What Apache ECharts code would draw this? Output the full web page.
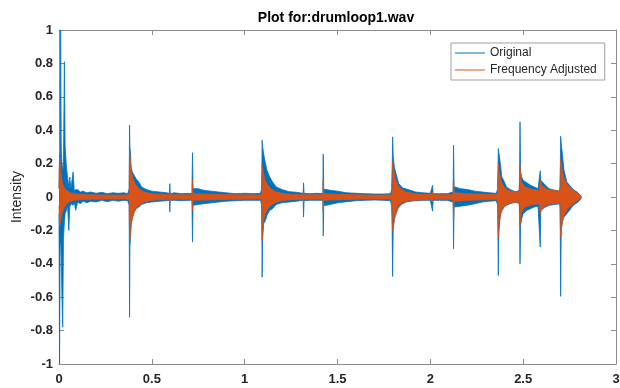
<!DOCTYPE html>
<html>
<head>
<meta charset="utf-8">
<script src="https://cdn.jsdelivr.net/npm/echarts@6/dist/echarts.min.js"></script>
<style>
  html, body { margin: 0; padding: 0; background: #fff; }
  #chart { width: 620px; height: 388px; }
</style>
</head>
<body>
<div id="chart"></div>
<script>
// envelope of the waveform: [time (s), upper, lower]
const originalEnvelope = [
  [0.000, 0.05, -0.10], [0.003, 0.25, -1.00], [0.006, 0.15, -0.30], [0.009, 1.00, -0.25],
  [0.012, 0.30, -0.35], [0.016, 0.20, -0.60], [0.020, 0.15, -0.78], [0.024, 0.20, -0.25],
  [0.029, 0.81, -0.15], [0.033, 0.30, -0.10],
  [0.040, 0.18, -0.08], [0.046, 0.12, -0.05], [0.053, 0.06, -0.20], [0.058, 0.12, -0.06],
  [0.064, 0.05, -0.04], [0.076, 0.15, -0.05], [0.082, 0.04, -0.03], [0.090, 0.05, -0.08],
  [0.100, 0.045, -0.03], [0.115, 0.03, -0.04], [0.130, 0.035, -0.025], [0.150, 0.025, -0.035],
  [0.170, 0.03, -0.025], [0.200, 0.022, -0.03], [0.230, 0.028, -0.02], [0.260, 0.02, -0.028],
  [0.290, 0.025, -0.02], [0.320, 0.022, -0.025], [0.350, 0.025, -0.02], [0.370, 0.02, -0.022],
  [0.378, 0.05, -0.05], [0.380, 0.43, -0.72], [0.382, 0.30, -0.30], [0.385, 0.27, -0.25],
  [0.388, 0.18, -0.16], [0.395, 0.15, -0.13], [0.405, 0.16, -0.09], [0.415, 0.11, -0.07],
  [0.430, 0.09, -0.06], [0.445, 0.06, -0.045], [0.470, 0.045, -0.035], [0.500, 0.035, -0.03],
  [0.540, 0.03, -0.025], [0.580, 0.025, -0.022], [0.595, 0.022, -0.02], [0.597, 0.08, -0.09],
  [0.599, 0.02, -0.02], [0.620, 0.025, -0.02], [0.660, 0.02, -0.022], [0.700, 0.022, -0.02],
  [0.716, 0.02, -0.02], [0.719, 0.265, -0.27], [0.722, 0.05, -0.05], [0.730, 0.045, -0.05],
  [0.750, 0.05, -0.045], [0.780, 0.04, -0.04], [0.820, 0.035, -0.035], [0.860, 0.03, -0.03],
  [0.900, 0.025, -0.025], [0.950, 0.02, -0.022], [1.000, 0.022, -0.02], [1.050, 0.02, -0.02],
  [1.085, 0.022, -0.02], [1.092, 0.05, -0.05], [1.094, 0.34, -0.48], [1.097, 0.30, -0.25],
  [1.102, 0.26, -0.16], [1.112, 0.20, -0.14], [1.120, 0.16, -0.11], [1.135, 0.12, -0.08],
  [1.150, 0.09, -0.07], [1.170, 0.06, -0.045], [1.200, 0.045, -0.035], [1.240, 0.032, -0.03],
  [1.280, 0.028, -0.025], [1.315, 0.022, -0.02], [1.317, 0.085, -0.12], [1.320, 0.022, -0.022],
  [1.350, 0.02, -0.02], [1.390, 0.022, -0.02], [1.421, 0.02, -0.02], [1.423, 0.257, -0.233],
  [1.426, 0.045, -0.05], [1.440, 0.045, -0.05], [1.460, 0.04, -0.045], [1.500, 0.035, -0.035],
  [1.550, 0.025, -0.028], [1.600, 0.022, -0.022], [1.650, 0.02, -0.02], [1.700, 0.018, -0.018],
  [1.750, 0.018, -0.02], [1.785, 0.02, -0.022], [1.793, 0.05, -0.06], [1.797, 0.36, -0.476],
  [1.800, 0.25, -0.20], [1.806, 0.18, -0.12], [1.815, 0.14, -0.10], [1.830, 0.08, -0.05],
  [1.850, 0.055, -0.035], [1.880, 0.045, -0.025], [1.920, 0.03, -0.022], [1.960, 0.025, -0.02],
  [2.000, 0.022, -0.02], [2.010, 0.02, -0.02], [2.012, 0.07, -0.085], [2.015, 0.02, -0.02],
  [2.050, 0.02, -0.02], [2.090, 0.02, -0.02], [2.123, 0.03, -0.03], [2.125, 0.31, -0.31],
  [2.128, 0.06, -0.06], [2.140, 0.058, -0.058], [2.160, 0.05, -0.055], [2.200, 0.045, -0.05],
  [2.240, 0.035, -0.04], [2.280, 0.03, -0.03], [2.320, 0.025, -0.025], [2.355, 0.022, -0.022],
  [2.363, 0.05, -0.05], [2.366, 0.29, -0.47], [2.369, 0.28, -0.22], [2.375, 0.22, -0.11],
  [2.385, 0.12, -0.08], [2.395, 0.10, -0.06], [2.410, 0.06, -0.05], [2.430, 0.045, -0.04],
  [2.460, 0.03, -0.03], [2.480, 0.04, -0.04], [2.483, 0.45, -0.40], [2.486, 0.15, -0.17],
  [2.492, 0.12, -0.13], [2.500, 0.10, -0.10], [2.520, 0.085, -0.08], [2.540, 0.07, -0.07],
  [2.560, 0.06, -0.06], [2.580, 0.05, -0.055], [2.590, 0.05, -0.05], [2.592, 0.157, -0.30],
  [2.595, 0.10, -0.08], [2.605, 0.09, -0.07], [2.620, 0.07, -0.06], [2.640, 0.05, -0.05],
  [2.670, 0.04, -0.045], [2.695, 0.035, -0.04], [2.699, 0.06, -0.06], [2.702, 0.364, -0.595],
  [2.705, 0.32, -0.20], [2.712, 0.25, -0.14], [2.720, 0.16, -0.12], [2.735, 0.09, -0.10],
  [2.750, 0.07, -0.08], [2.770, 0.045, -0.05], [2.790, 0.03, -0.035], [2.805, 0.015, -0.02],
  [2.815, 0.003, -0.003]
];

const adjustedEnvelope = [
  [0.000, 0.05, -0.05], [0.003, 0.24, -0.17], [0.008, 0.18, -0.15], [0.015, 0.10, -0.10],
  [0.025, 0.06, -0.07], [0.040, 0.04, -0.04], [0.060, 0.025, -0.025], [0.090, 0.018, -0.018],
  [0.150, 0.014, -0.014], [0.250, 0.012, -0.012], [0.360, 0.012, -0.012], [0.378, 0.015, -0.015],
  [0.380, 0.28, -0.26], [0.384, 0.22, -0.24], [0.390, 0.15, -0.15], [0.400, 0.10, -0.10],
  [0.415, 0.07, -0.07], [0.430, 0.05, -0.05], [0.460, 0.03, -0.03], [0.500, 0.02, -0.02],
  [0.550, 0.015, -0.015], [0.596, 0.013, -0.013], [0.597, 0.035, -0.035], [0.599, 0.013, -0.013],
  [0.717, 0.013, -0.013], [0.719, 0.10, -0.08], [0.722, 0.02, -0.02], [0.780, 0.018, -0.018],
  [0.900, 0.014, -0.014], [1.090, 0.012, -0.012], [1.094, 0.19, -0.26], [1.100, 0.15, -0.15],
  [1.110, 0.10, -0.10], [1.125, 0.07, -0.07], [1.140, 0.05, -0.05], [1.170, 0.03, -0.03],
  [1.210, 0.02, -0.02], [1.260, 0.015, -0.015], [1.316, 0.013, -0.013], [1.317, 0.03, -0.035],
  [1.319, 0.013, -0.013], [1.421, 0.013, -0.013], [1.423, 0.10, -0.08], [1.426, 0.02, -0.02],
  [1.500, 0.016, -0.016], [1.650, 0.012, -0.012], [1.790, 0.012, -0.012], [1.797, 0.21, -0.20],
  [1.803, 0.16, -0.16], [1.812, 0.11, -0.11], [1.825, 0.07, -0.07], [1.845, 0.045, -0.045],
  [1.870, 0.03, -0.03], [1.920, 0.02, -0.02], [2.000, 0.014, -0.014], [2.012, 0.03, -0.03],
  [2.015, 0.014, -0.014], [2.122, 0.014, -0.014], [2.125, 0.12, -0.14], [2.128, 0.025, -0.025],
  [2.200, 0.02, -0.02], [2.300, 0.016, -0.016], [2.362, 0.016, -0.016], [2.366, 0.20, -0.245],
  [2.372, 0.15, -0.15], [2.382, 0.09, -0.09], [2.400, 0.055, -0.055], [2.430, 0.035, -0.035],
  [2.478, 0.03, -0.03], [2.483, 0.19, -0.17], [2.490, 0.09, -0.09], [2.510, 0.06, -0.06],
  [2.550, 0.045, -0.045], [2.588, 0.04, -0.04], [2.592, 0.10, -0.10], [2.600, 0.07, -0.07],
  [2.630, 0.045, -0.045], [2.698, 0.035, -0.035], [2.702, 0.23, -0.24], [2.708, 0.17, -0.17],
  [2.720, 0.11, -0.11], [2.740, 0.07, -0.07], [2.770, 0.04, -0.04], [2.800, 0.015, -0.015],
  [2.815, 0.003, -0.003]
];

const seriesNames = ['Original', 'Frequency Adjusted'];
const seriesColors = ['#0072BD', '#D95319'];
const titleText = 'Plot for:drumloop1.wav';
const yAxisName = 'Intensity';

const axisColor = '#8c8c8c';
const labelColor = '#262626';
const font = '"Liberation Sans", Arial, sans-serif';

// one filled band half (upper or lower) down to the zero line
function band(name, color, rows, col) {
  return {
    name,
    type: 'line',
    data: rows.map((r) => [r[0], r[col]]),
    symbol: 'none',
    showSymbol: false,
    sampling: 'none',
    color,
    lineStyle: { width: 0.8, color },
    areaStyle: { color, opacity: 1, origin: 'auto' },
    emphasis: { disabled: true },
    silent: true,
    animation: false
  };
}

const chart = echarts.init(document.getElementById('chart'), null, { renderer: 'canvas' });

const baseX = {
  type: 'value',
  min: 0,
  max: 3,
  interval: 0.5,
  axisLine: { show: true, onZero: false, lineStyle: { color: axisColor, width: 1 } },
  axisTick: { show: true, inside: true, length: 5, lineStyle: { color: axisColor } },
  splitLine: { show: false }
};
const baseY = {
  type: 'value',
  min: -1,
  max: 1,
  interval: 0.2,
  axisLine: { show: true, onZero: false, lineStyle: { color: axisColor, width: 1 } },
  axisTick: { show: true, inside: true, length: 5, lineStyle: { color: axisColor } },
  splitLine: { show: false }
};

chart.setOption({
  backgroundColor: '#fff',
  animation: false,
  grid: { left: 59, right: 4, top: 30, bottom: 24, containLabel: false, outerBoundsMode: 'none' },
  graphic: [
    {
      type: 'text',
      x: 336,
      y: 18,
      style: {
        text: titleText,
        align: 'center',
        verticalAlign: 'middle',
        font: 'bold 14px ' + font,
        fill: '#000'
      }
    }
  ],
  legend: {
    data: seriesNames,
    orient: 'vertical',
    left: 451,
    top: 43,
    padding: [3, 8, 3, 4],
    itemGap: 3,
    itemWidth: 30,
    itemHeight: 1,
    icon: 'rect',
    backgroundColor: '#fff',
    borderColor: '#a0a0a0',
    borderWidth: 1,
    borderRadius: 0,
    selectedMode: false,
    textStyle: { fontFamily: font, fontSize: 12, color: '#262626', lineHeight: 14 }
  },
  xAxis: [
    Object.assign({}, baseX, {
      position: 'bottom',
      axisLabel: { color: labelColor, fontFamily: font, fontWeight: 'bold', fontSize: 13, margin: 9 }
    }),
    Object.assign({}, baseX, { position: 'top', axisLabel: { show: false } })
  ],
  yAxis: [
    Object.assign({}, baseY, {
      position: 'left',
      name: yAxisName,
      nameLocation: 'middle',
      nameGap: 35,
      nameMoveOverlap: false,
      nameTextStyle: { color: labelColor, fontFamily: font, fontSize: 14 },
      axisLabel: { color: labelColor, fontFamily: font, fontWeight: 'bold', fontSize: 13, margin: 6 }
    }),
    Object.assign({}, baseY, { position: 'right', axisLabel: { show: false } })
  ],
  series: [
    band(seriesNames[0], seriesColors[0], originalEnvelope, 1),
    band(seriesNames[0], seriesColors[0], originalEnvelope, 2),
    band(seriesNames[1], seriesColors[1], adjustedEnvelope, 1),
    band(seriesNames[1], seriesColors[1], adjustedEnvelope, 2)
  ]
});
</script>
</body>
</html>
